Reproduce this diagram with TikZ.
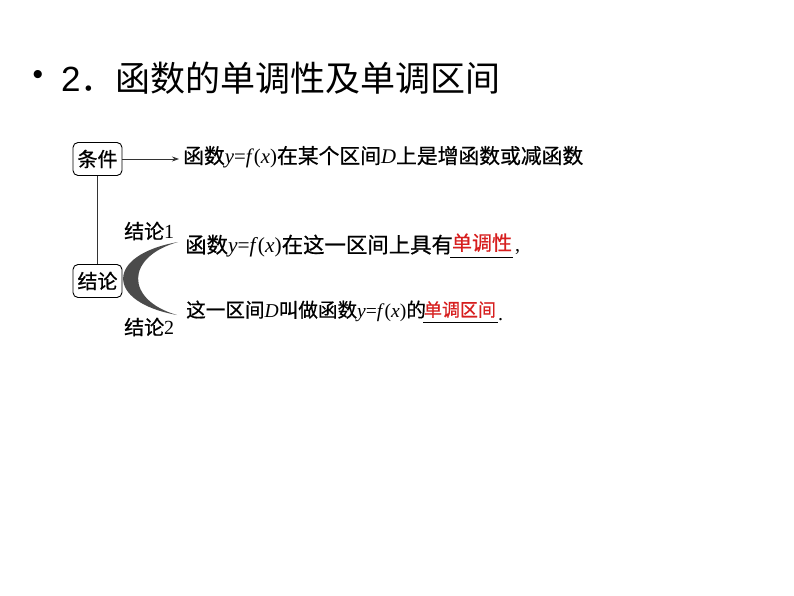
\documentclass[tikz,border=0pt]{standalone}
\usepackage{fontspec}
\newfontfamily\cjk{Noto Sans CJK SC}
\newfontfamily\cjkb[FakeBold=0.6]{Noto Sans CJK SC}
\newfontfamily\tnr{Liberation Serif}
\newfontfamily\arial{Liberation Sans}
\usetikzlibrary{arrows.meta}
\newcommand\myfx{{\tnr\textit{y}=\textit{f}(\textit{x})}}
\newcommand\myD{{\tnr\textit{D}}}
\definecolor{ansred}{RGB}{215,30,30}
\definecolor{crescent}{RGB}{75,75,75}
\begin{document}
\begin{tikzpicture}[x=1pt,y=-1pt,
  box/.style={draw=black,line width=0.9pt,rounded corners=5pt,minimum width=49pt,minimum height=33pt,inner sep=1pt,font=\cjkb\fontsize{20}{22}\selectfont},
  txt/.style={inner sep=0pt,anchor=west,font=\cjkb\fontsize{20}{22}\selectfont},
  ans/.style={inner sep=0pt,anchor=south,text=ansred,font=\cjkb\fontsize{20}{22}\selectfont},
  conn/.style={draw=black!80,line width=0.8pt}]
\useasboundingbox (0,0) rectangle (794,596);
\fill[white] (0,0) rectangle (794,596);
% title
\node[inner sep=0pt,anchor=center] (bullet) at (38,78) {\arial\fontsize{30}{32}\selectfont •};
\node[inner sep=0pt,anchor=west] (title) at (61,78) {\fontsize{35}{38}\selectfont{\arial 2}{\cjk ．函数的单调性及单调区间}};
% boxes
\node[box] (cond) at (97.5,159) {条件};
\node[box] (concl) at (97.5,281) {结论};
\draw[conn] (cond.south) -- (concl.north);
% line 1
\node[txt,font=\cjkb\fontsize{20.8}{23}\selectfont] (l1) at (183,157) {函数\myfx 在某个区间\myD 上是增函数或减函数};
\draw[conn,-{Stealth[length=7pt,width=5pt]},shorten >=4pt] (cond.east) -- (cond.east -| l1.west);
% crescent
\fill[crescent] (178,242) .. controls (105,255) and (105,302) .. (177,315)
  .. controls (125,300) and (125,257) .. (178,242) -- cycle;
\node[txt] (lab1) at (124,231) {结论{\tnr 1}};
\node[txt] (lab2) at (124,327) {结论{\tnr 2}};
% line 2
\node[txt,font=\cjkb\fontsize{21.4}{23}\selectfont] (l2) at (185,246) {函数\myfx 在这一区间上具有};
\coordinate (u1a) at (450,257);
\coordinate (u1b) at (513,257);
\draw[line width=0.7pt] (u1a) -- (u1b);
\node[ans] (a1) at (482,252) {单调性};
\node[inner sep=0pt,anchor=base west,font=\fontsize{20}{22}\selectfont] (c1) at (515,251) {\tnr ,};
% line 3
\node[txt,font=\cjkb\fontsize{19.6}{22}\selectfont] (l3) at (186,311) {这一区间\myD 叫做函数\myfx 的};
\coordinate (u2a) at (423,322);
\coordinate (u2b) at (498,322);
\draw[line width=0.7pt] (u2a) -- (u2b);
\node[ans,font=\cjkb\fontsize{18}{20}\selectfont] (a2) at (460,318) {单调区间};
\node[inner sep=0pt,anchor=base west,font=\fontsize{20}{22}\selectfont] (c2) at (498,320) {\tnr .};
\end{tikzpicture}
\end{document}
